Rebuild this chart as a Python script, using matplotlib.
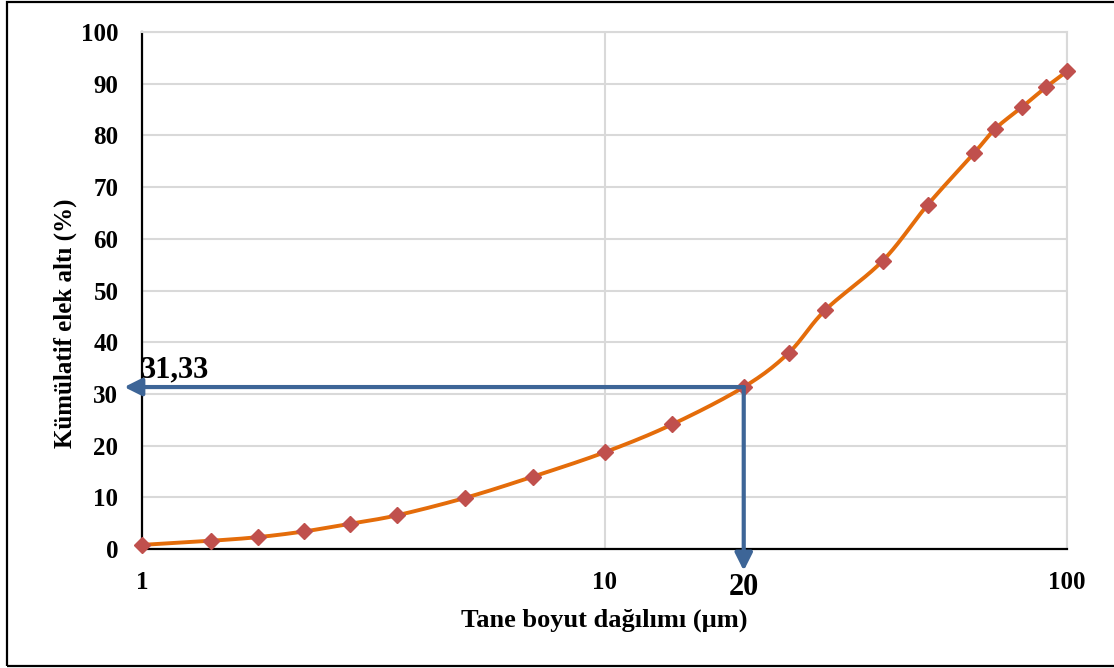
import numpy as np
import matplotlib.pyplot as plt
from matplotlib.patches import Rectangle

# particle size (um) and cumulative passing (%)
size_um = [1, 1.41, 1.78, 2.24, 2.82, 3.55, 5, 7, 10, 14, 20, 25, 30, 40, 50, 63, 70, 80, 90, 100]
passing = [0.8, 1.6, 2.3, 3.4, 4.9, 6.5, 9.9, 14.0, 18.7, 24.1, 31.33, 37.9, 46.2, 55.8, 66.6, 76.6, 81.3, 85.5, 89.3, 92.4]

x_ticks = [1, 10, 100]
y_ticks = [0, 10, 20, 30, 40, 50, 60, 70, 80, 90, 100]
d_mark = 20
p_mark = 31.33

plt.rcParams['font.family'] = ['Liberation Serif', 'DejaVu Serif']
plt.rcParams['font.weight'] = 'bold'


def smooth(xs, ys, n=20):
    # Catmull-Rom spline through the points in (log x, y) space, like Excel's smoothed line
    lx = np.log10(xs)
    ys = np.asarray(ys, dtype=float)
    px = np.concatenate([[2 * lx[0] - lx[1]], lx, [2 * lx[-1] - lx[-2]]])
    py = np.concatenate([[2 * ys[0] - ys[1]], ys, [2 * ys[-1] - ys[-2]]])
    outx, outy = [], []
    t = np.linspace(0, 1, n)
    for i in range(1, len(px) - 2):
        for arr, out in ((px, outx), (py, outy)):
            p0, p1, p2, p3 = arr[i - 1], arr[i], arr[i + 1], arr[i + 2]
            seg = 0.5 * ((2 * p1) + (-p0 + p2) * t + (2 * p0 - 5 * p1 + 4 * p2 - p3) * t ** 2
                         + (-p0 + 3 * p1 - 3 * p2 + p3) * t ** 3)
            out.extend(seg)
    return 10 ** np.array(outx), np.array(outy)


fig = plt.figure(figsize=(11.14, 6.68), dpi=100)
ax = fig.add_axes([0.1275, 0.1781, 0.8303, 0.774])

sx, sy = smooth(size_um, passing)
ax.plot(sx, sy, color='#E46C0A', lw=2.8, zorder=3, clip_on=False)
ax.plot(size_um, passing, ls='none', marker='D', ms=8.5, color='#C0504D', zorder=4, clip_on=False)

ax.set_xscale('log')
ax.set_xlim(1, 100)
ax.set_ylim(0, 100)
ax.set_xticks(x_ticks)
ax.set_xticklabels([str(v) for v in x_ticks])
ax.minorticks_off()
ax.set_yticks(y_ticks)
ax.tick_params(axis='both', length=0, labelsize=18)
ax.tick_params(axis='y', pad=17)
ax.tick_params(axis='x', pad=16)
ax.grid(True, color='#D9D9D9', lw=1.5)
ax.set_axisbelow(True)
for s in ['left', 'bottom']:
    ax.spines[s].set_color('black')
    ax.spines[s].set_linewidth(1.6)
for s in ['top', 'right']:
    ax.spines[s].set_color('#D9D9D9')
    ax.spines[s].set_linewidth(1.5)

ax.set_xlabel('Tane boyut dağılımı (µm)', fontsize=19, fontweight='bold', labelpad=10)
ax.set_ylabel('Kümülatif elek altı (%)', fontsize=18, fontweight='bold')
ax.yaxis.set_label_coords(-0.070, 0.437)

# guide arrows at d = 20 um
blue = '#3D6597'
ax.annotate('', xy=(0.915, p_mark), xytext=(d_mark, p_mark), annotation_clip=False,
            arrowprops=dict(arrowstyle='-|>', color=blue, lw=3, mutation_scale=26,
                            shrinkA=0, shrinkB=0), zorder=5)
ax.annotate('', xy=(d_mark, -4.2), xytext=(d_mark, p_mark), annotation_clip=False,
            arrowprops=dict(arrowstyle='-|>', color=blue, lw=3, mutation_scale=26,
                            shrinkA=0, shrinkB=0), zorder=5)
ax.text(0.995, p_mark + 0.5, '31,33', fontsize=22, fontweight='bold', ha='left', va='bottom')
ax.text(d_mark, -4.7, '20', fontsize=22, fontweight='bold', ha='center', va='top')

fig.patches.append(Rectangle((0.0063, 0.003), 1.1, 0.994, transform=fig.transFigure,
                             fill=False, edgecolor='black', lw=1.6))

fig.savefig('out.png', dpi=100)
